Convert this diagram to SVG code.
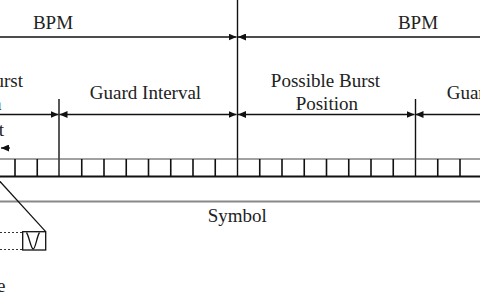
<svg xmlns="http://www.w3.org/2000/svg" width="480" height="300" viewBox="0 0 480 300">
<style>
text{font-family:"Liberation Serif","Times New Roman",serif;font-size:19px;fill:#222}
.dim{stroke:#111;stroke-width:1.3;fill:none}
.v{stroke:#111;stroke-width:1.4}
.cell{stroke:#111;stroke-width:1.6}
</style>
<defs>
<marker id="ah" markerUnits="userSpaceOnUse" viewBox="0 0 8 7" markerWidth="8" markerHeight="7" refX="8" refY="3.5" orient="auto-start-reverse">
<path d="M0,0 L8,3.5 L0,7 z" fill="#111"/>
</marker>
</defs>
<rect width="480" height="300" fill="#fff"/>
<g id="connectors">
<line class="dim" x1="0" y1="37" x2="236.5" y2="37" marker-end="url(#ah)"/>
<line class="dim" x1="238" y1="37" x2="480" y2="37" marker-start="url(#ah)"/>
<line class="dim" x1="0" y1="114.5" x2="58.5" y2="114.5" marker-end="url(#ah)"/>
<line class="dim" x1="59.5" y1="114.5" x2="236.5" y2="114.5" marker-start="url(#ah)" marker-end="url(#ah)"/>
<line class="dim" x1="238" y1="114.5" x2="414.5" y2="114.5" marker-start="url(#ah)" marker-end="url(#ah)"/>
<line class="dim" x1="415.5" y1="114.5" x2="480" y2="114.5" marker-start="url(#ah)"/>
<line class="dim" x1="10" y1="148" x2="1" y2="148" marker-end="url(#ah)"/>
</g>
<g id="dividers">
<line class="v" x1="237.5" y1="0" x2="237.5" y2="177"/>
<line class="v" x1="59" y1="99" x2="59" y2="177"/>
<line class="v" x1="415.5" y1="99" x2="415.5" y2="177"/>
</g>
<g id="labels">
<text x="53" y="29" text-anchor="middle">BPM</text>
<text x="418" y="29" text-anchor="middle">BPM</text>
<text x="23" y="87" text-anchor="end">Possible Burst</text>
<text x="1.5" y="110" text-anchor="end">Position</text>
<text x="145.5" y="98.5" text-anchor="middle">Guard Interval</text>
<text x="325.5" y="87" text-anchor="middle">Possible Burst</text>
<text x="326.8" y="110" text-anchor="middle">Position</text>
<text x="446.7" y="98.5">Guard Interval</text>
<text x="4" y="136" text-anchor="end">t</text>
<text x="237.3" y="221.5" text-anchor="middle">Symbol</text>
<text x="5.5" y="292" text-anchor="end">e</text>
</g>
<g id="cells">
<line x1="0" y1="159" x2="480" y2="159" stroke="#444" stroke-width="1.2"/>
<line x1="0" y1="176.5" x2="480" y2="176.5" stroke="#111" stroke-width="2"/>
<path class="cell" d="M15,159V176.5M37.25,159V176.5M81.75,159V176.5M104,159V176.5M126.25,159V176.5M148.5,159V176.5M170.75,159V176.5M193,159V176.5M215.25,159V176.5M259.75,159V176.5M282,159V176.5M304.25,159V176.5M326.5,159V176.5M348.75,159V176.5M371,159V176.5M393.25,159V176.5M437.75,159V176.5M460,159V176.5"/>
</g>
<g id="symbol-line">
<line x1="0" y1="201.5" x2="480" y2="201.5" stroke="#888" stroke-width="1.8"/>
</g>
<g id="pulse">
<line x1="-5" y1="176" x2="45.7" y2="231.7" stroke="#111" stroke-width="1.2"/>
<rect x="22.7" y="231.7" width="23" height="18.3" fill="none" stroke="#111" stroke-width="1.3"/>
<path d="M26.5,232.5 C29,236 31,249 33.2,249 C35.4,249 37,236 39.5,232.5" fill="none" stroke="#111" stroke-width="1.3"/>
<line x1="0" y1="232.5" x2="22.7" y2="232.5" stroke="#333" stroke-width="1.2" stroke-dasharray="2,2"/>
<line x1="0" y1="249.5" x2="22.7" y2="249.5" stroke="#333" stroke-width="1.2" stroke-dasharray="2,2"/>
</g>
</svg>
